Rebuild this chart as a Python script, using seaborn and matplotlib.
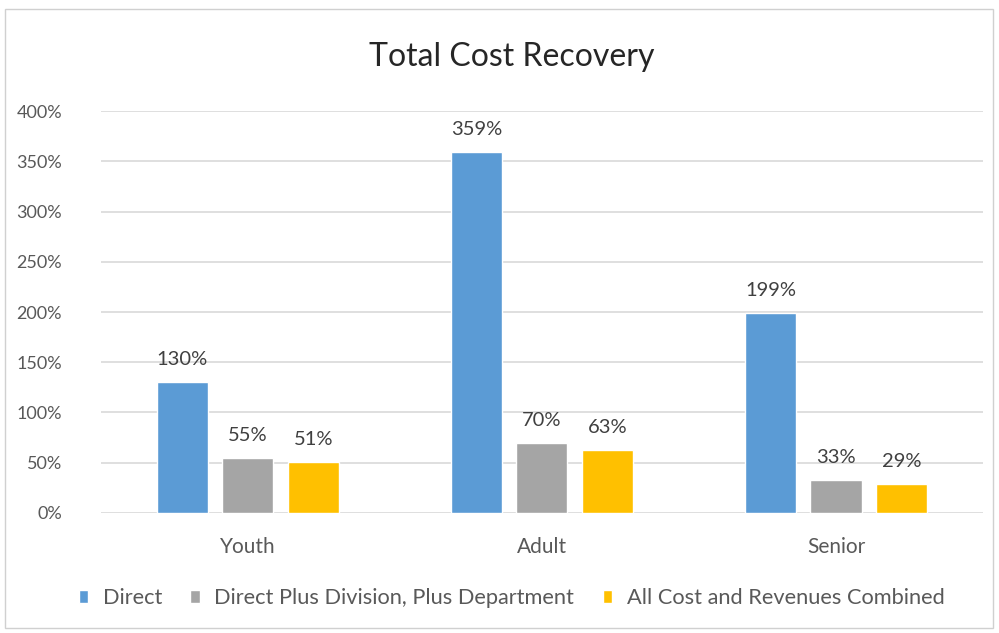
import matplotlib
matplotlib.use("Agg")
import matplotlib.pyplot as plt
import seaborn as sns
import pandas as pd
from matplotlib.patches import Rectangle, Patch
from matplotlib.ticker import FuncFormatter

categories = ["Youth", "Adult", "Senior"]
series = ["Direct", "Direct Plus Division, Plus Department", "All Cost and Revenues Combined"]
direct = [130, 359, 199]
div_dept = [55, 70, 33]
all_combined = [51, 63, 29]
colors = ["#5B9BD5", "#A5A5A5", "#FFC000"]

rows = []
for s, vals in zip(series, [direct, div_dept, all_combined]):
    for c, v in zip(categories, vals):
        rows.append({"cat": c, "series": s, "value": v})
df = pd.DataFrame(rows)

sns.set_theme(style="white")
plt.rcParams['font.family'] = ['Lato', 'DejaVu Sans']

fig = plt.figure(figsize=(9.99, 6.33), dpi=100)
ax = fig.add_axes([0.101, 0.1896, 0.883, 0.635])

sns.barplot(data=df, x="cat", y="value", hue="series", palette=colors,
            order=categories, hue_order=series, width=0.668, gap=0.22,
            ax=ax, legend=False, saturation=1)

ax.set_ylim(0, 400)
ax.set_yticks(range(0, 401, 50))
ax.yaxis.set_major_formatter(FuncFormatter(lambda v, p: f"{int(v)}%"))
ax.grid(axis="y", color="#D9D9D9", linewidth=1.2)
ax.set_axisbelow(True)
for sp in ax.spines.values():
    sp.set_visible(False)
ax.set_xlabel("")
ax.set_ylabel("")
ax.tick_params(axis="y", colors="#595959", labelsize=13, length=0, pad=28)
ax.tick_params(axis="x", colors="#595959", labelsize=15, length=0, pad=17)

for cont in ax.containers:
    ax.bar_label(cont, labels=[f"{int(v)}%" for v in cont.datavalues],
                 padding=10, fontsize=14.5, color="#404040")

fig.text(0.512, 0.91, "Total Cost Recovery", ha="center", va="center",
         fontsize=23, color="#262626")

handles = [Patch(facecolor=c, label=s) for c, s in zip(colors, series)]
fig.legend(handles=handles, loc="center", bbox_to_anchor=(0.512, 0.055), ncol=3,
           frameon=False, fontsize=15.7, handlelength=0.45, handleheight=0.6,
           columnspacing=1.3, handletextpad=0.65, labelcolor="#595959")

fig.patches.append(Rectangle((0.005, 0.008), 0.989, 0.977, transform=fig.transFigure,
                             fill=False, edgecolor="#D0D0D0", linewidth=1))

fig.savefig("out.png", dpi=100)
